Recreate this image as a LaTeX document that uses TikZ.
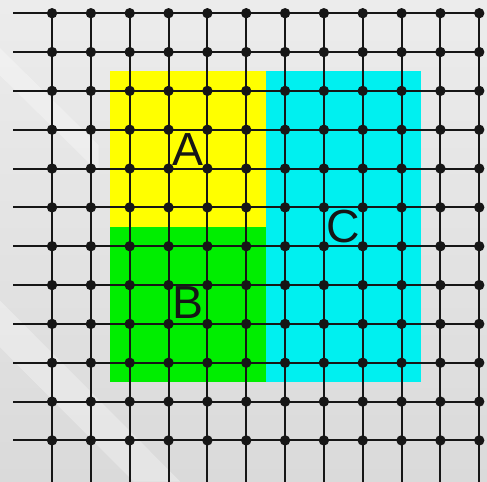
\documentclass[tikz,border=0pt]{standalone}
\usepackage{fontspec}
\setmainfont{Liberation Sans}
\usetikzlibrary{calc}
\definecolor{BgTop}{RGB}{236,236,236}
\definecolor{BgBottom}{RGB}{218,218,218}
\definecolor{ZoneYellow}{RGB}{255,255,0}
\definecolor{ZoneGreen}{RGB}{0,238,0}
\definecolor{ZoneCyan}{RGB}{0,240,240}
\definecolor{GridInk}{RGB}{22,22,22}
\tikzset{
	dot/.style={circle,fill=GridInk,inner sep=0pt,minimum size=7.6pt},
	gridline/.style={draw=GridInk,line width=1.5pt},
	zone/.style={font=\fontsize{34}{40}\selectfont,text=GridInk,inner sep=0pt},
	band/.style={fill=white,opacity=0.3},
}

\begin{document}
\begin{tikzpicture}
	\useasboundingbox (-1.34,-12.06) rectangle (11.2,0.34);
	\shade[top color=BgTop,bottom color=BgBottom] (-1.34,-12.06) rectangle (11.2,0.34);
	% faint diagonal light bands
	\fill[band] (-1.34,-0.9) -- (-1.34,-1.6) -- (1.2,-4.1) -- (1.2,-3.4) -- cycle;
	\fill[band] (-1.34,-7.4) -- (-1.34,-8.6) -- (2.1,-12.06) -- (3.3,-12.06) -- cycle;
	% zones
	\fill[ZoneYellow] (1.5,-1.5) rectangle (5.5,-5.5);
	\fill[ZoneGreen] (1.5,-5.5) rectangle (5.5,-9.5);
	\fill[ZoneCyan] (5.5,-1.5) rectangle (9.5,-9.5);
	% lattice
	\foreach \r in {0,...,11}
		\draw[gridline] (-1,-\r) -- (11,-\r);
	\foreach \c in {0,...,11}
		\draw[gridline] (\c,0) -- (\c,-12.06);
	\foreach \c in {0,...,11}
		\foreach \r in {0,...,11}
			\node[dot] (p-\c-\r) at (\c,-\r) {};
	\node[zone] (A) at (3.5,-3.5) {A};
	\node[zone] (B) at (3.5,-7.45) {B};
	\node[zone] (C) at (7.5,-5.5) {C};
\end{tikzpicture}
\end{document}
